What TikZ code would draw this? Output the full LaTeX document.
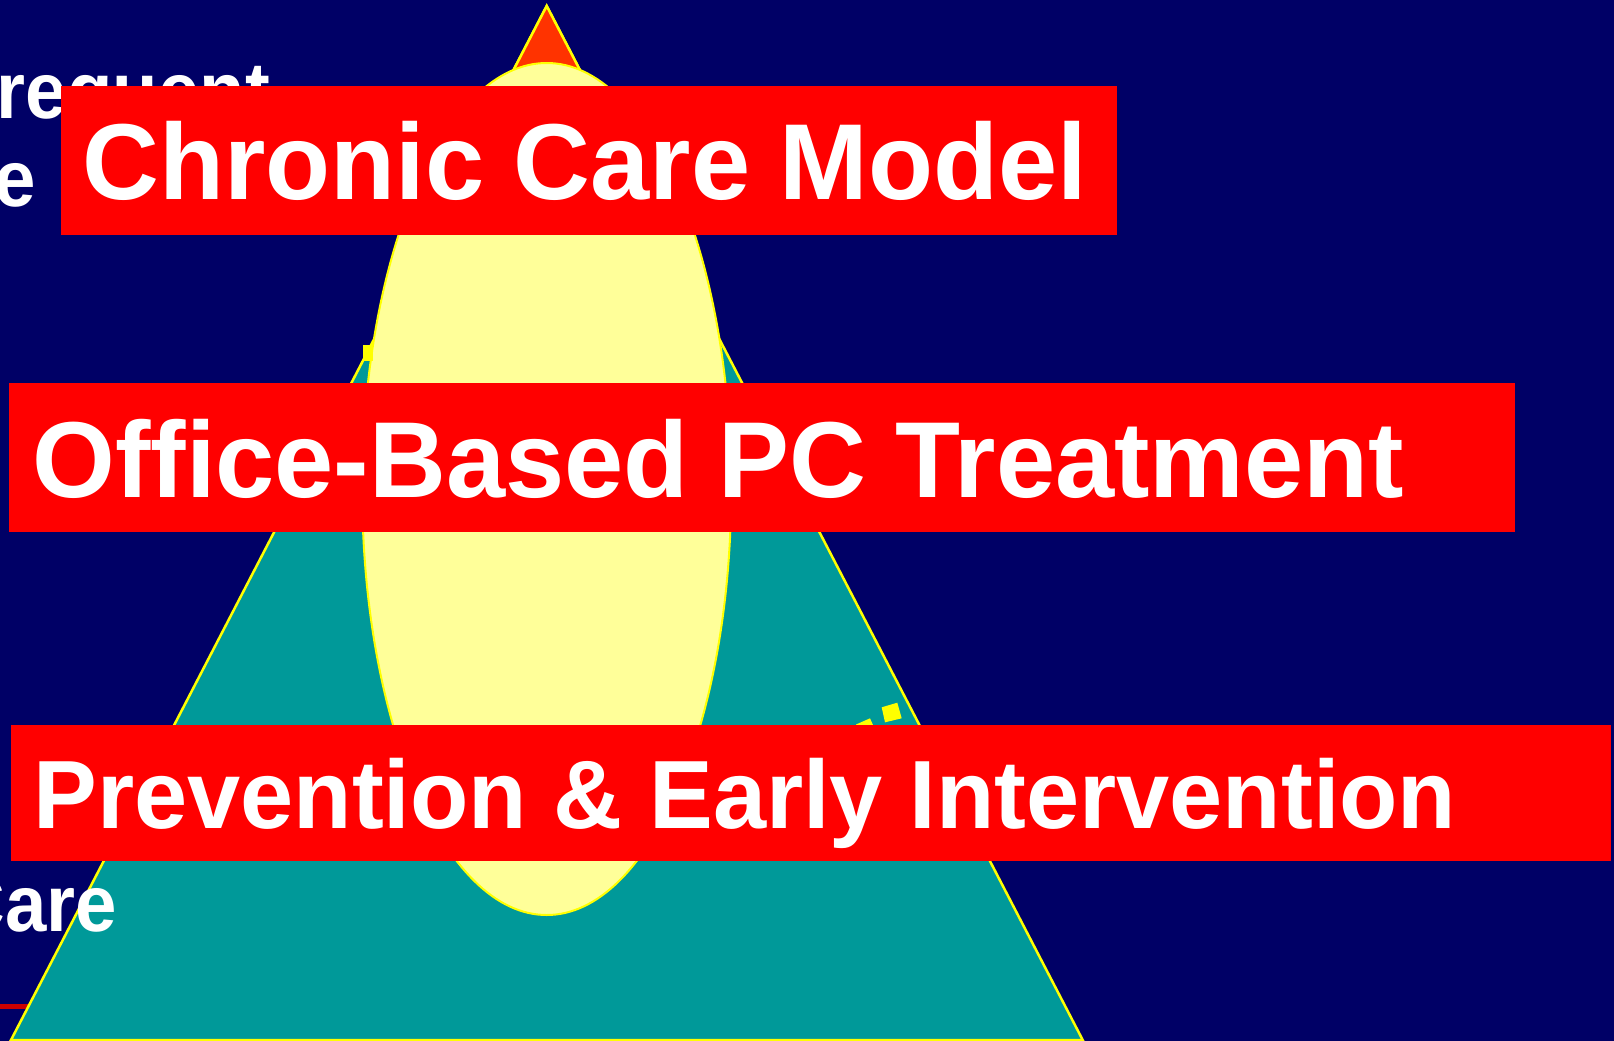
\documentclass[tikz,border=0pt]{standalone}
\usepackage{fontspec}
\setmainfont{Liberation Sans}

\definecolor{bgnavy}{HTML}{000066}
\definecolor{layerteal}{HTML}{009999}
\definecolor{tipred}{HTML}{FF3300}
\definecolor{ovalyellow}{HTML}{FFFF99}
\definecolor{edgeyellow}{HTML}{FFFF00}
\definecolor{boxred}{HTML}{FF0000}
\definecolor{linered}{HTML}{CC0000}

\begin{document}
\begin{tikzpicture}[x=1pt, y=-1pt,
  layer/.style={draw=edgeyellow, line width=2.5pt},
  banner/.style={fill=boxred},
  bannertext/.style={anchor=base west, inner sep=0, text=white},
  oldtext/.style={inner sep=0, text=white, font=\fontsize{80}{80}\selectfont\bfseries}]
\useasboundingbox (0, 0) rectangle (1614, 1041);
\fill[bgnavy] (0, 0) rectangle (1614, 1041);

\draw[linered, line width=5pt] (0, 1006)--(40, 1006);

% pyramid, with the tip drawn on top
\coordinate (apex) at (546.7, 6);
\coordinate (baseL) at (11, 1040);
\coordinate (baseR) at (1082.7, 1040);
\draw[layer, fill=layerteal] (apex)--(baseL)--(baseR)--cycle;
\draw[layer, fill=tipred] (apex)--(492.8, 110)--(600.6, 110)--cycle;

\draw[fill=ovalyellow, draw=edgeyellow, line width=2pt] (546.7, 489) ellipse [x radius=184.5, y radius=426];

\fill[edgeyellow] (362.7, 345) rectangle (373.3, 360.7);
\fill[edgeyellow] (881.7, 707.3)--(897.3, 702.7)--(901.7, 718.3)--(885, 722.3)--cycle;
\fill[edgeyellow] (856, 724.5)--(870, 718.3)--(876.2, 732.3)--(862.2, 738.5)--cycle;

\node[oldtext, anchor=base west] (frequent) at (-3.2, 118.3) {\scalebox{0.93}[1]{requent}};
\node[oldtext, anchor=base east] (lineE) at (36, 206) {\scalebox{0.93}[1]{e}};
\node[oldtext, anchor=base east] (care) at (117.3, 931.7) {\scalebox{0.93}[1]{Care}};

\fill[banner] (60.7, 86) rectangle (1117.3, 235);
\fill[banner] (9.3, 383) rectangle (1515, 532);
\fill[banner] (11.3, 725) rectangle (1611, 860.7);

\node[bannertext, font=\fontsize{108}{108}\selectfont\bfseries] (chronic) at (82.3, 199) {\scalebox{0.985}[1]{Chronic Care Model}};
\node[bannertext, font=\fontsize{108}{108}\selectfont\bfseries] (office) at (32.3, 497.5) {\scalebox{0.985}[1]{Office-Based PC Treatment}};
\node[bannertext, font=\fontsize{97}{97}\selectfont\bfseries] (prevention) at (33.3, 828) {\scalebox{0.985}[1]{Prevention \& Early Intervention}};
\end{tikzpicture}
\end{document}
